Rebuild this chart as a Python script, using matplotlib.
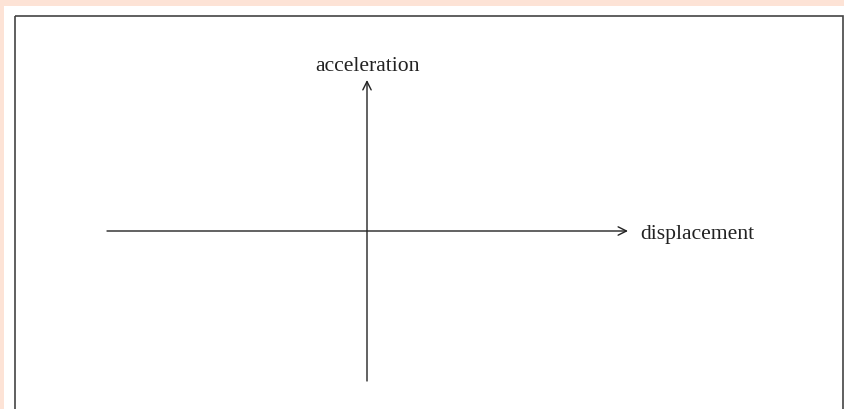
import matplotlib
matplotlib.use("Agg")
import matplotlib.pyplot as plt
from matplotlib.patches import Rectangle

# Diagram content
axis_labels = ["displacement", "acceleration"]
x_axis_range = [-1.0, 1.0]   # horizontal axis extent (relative units)
y_axis_range = [-1.0, 1.0]

W, H = 844, 409
fig = plt.figure(figsize=(W / 100, H / 100), dpi=100)
fig.patch.set_facecolor("#fde3d6")

# white panel
bg = fig.add_axes([0, 0, 1, 1])
bg.set_xlim(0, W)
bg.set_ylim(H, 0)
bg.axis("off")
bg.add_patch(Rectangle((4, 6), W, H, facecolor="white", edgecolor="none"))
bg.add_patch(Rectangle((15, 16), W - 16, H + 20, facecolor="none",
                       edgecolor="#444444", lw=1.2))

# diagram axes placed in pixel space
ox, oy = 367, 231
left, right = 107, 628
bottom, top = 381, 80
sx_neg = (ox - left)
sx_pos = (right - ox)
sy_neg = (bottom - oy)
sy_pos = (oy - top)

ax = fig.add_axes([left / W, 1 - bottom / H, (right - left) / W, (bottom - top) / H])
ax.set_xlim(-sx_neg, sx_pos)
ax.set_ylim(-sy_neg, sy_pos)
ax.axis("off")

def px(v, neg, pos):
    return v * (neg if v < 0 else pos)

ap = dict(arrowstyle="->", color="#222222", lw=1.0, mutation_scale=15,
          shrinkA=0, shrinkB=0)
ax.annotate("", xy=(px(x_axis_range[1], sx_neg, sx_pos), 0),
            xytext=(px(x_axis_range[0], sx_neg, sx_pos), 0), arrowprops=ap,
            annotation_clip=False)
ax.annotate("", xy=(0, px(y_axis_range[1], sy_neg, sy_pos)),
            xytext=(0, px(y_axis_range[0], sy_neg, sy_pos)), arrowprops=ap,
            annotation_clip=False)

font = dict(family="Liberation Serif", fontsize=15.6, color="#222222")
ax.text(sx_pos + 12, -1, axis_labels[0], ha="left", va="center_baseline",
        clip_on=False, **font)
ax.text(0, sy_pos + 16, axis_labels[1], ha="center", va="center_baseline",
        clip_on=False, **font)

fig.savefig("out.png", dpi=100, facecolor=fig.get_facecolor())
